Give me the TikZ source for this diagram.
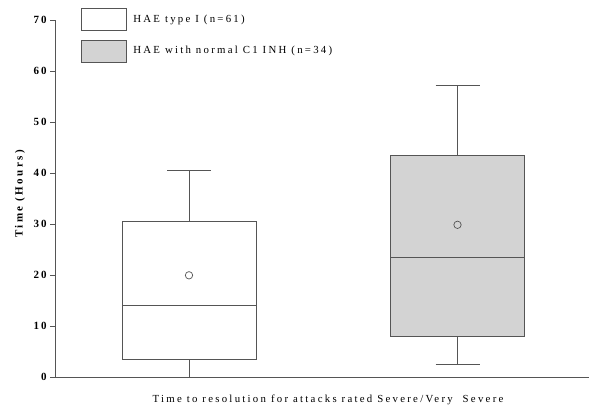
\documentclass[tikz,border=0pt]{standalone}
\usepackage{fontspec}
\setmainfont{Liberation Serif}
\usetikzlibrary{positioning}
\definecolor{lineclr}{RGB}{85,85,85}
\definecolor{boxfill}{RGB}{211,211,211}
\tikzset{
  plotline/.style={draw=lineclr, line width=0.9pt},
  legbox/.style={plotline, minimum width=44.7pt, minimum height=22.4pt, inner sep=0pt},
  legtext/.style={font=\fontsize{10.8}{12}\selectfont\addfontfeature{LetterSpace=21}, inner sep=0pt, anchor=west},
  ticklabel/.style={font=\bfseries\fontsize{11}{13}\selectfont\addfontfeature{LetterSpace=18}, inner sep=0pt, anchor=east},
  meanmark/.style={draw=lineclr, line width=0.7pt, fill=white}
}
\begin{document}
\begin{tikzpicture}[x=1pt, y=1pt]
            \useasboundingbox (0,0) rectangle (589,406);
            % Legend
            \node[legbox, fill=white] (legA) at (103.6,386.5) {};
            \node[legbox, fill=boxfill] (legB) at (103.6,354.8) {};
            \node[legtext, right=6.7pt of legA] (legAtext) {HAE type I (n=61)};
            \node[legtext, right=6.7pt of legB] (legBtext) {HAE with normal C1 INH (n=34)};
            % Axis titles
            \node[font=\bfseries\fontsize{11}{13}\selectfont\addfontfeature{LetterSpace=22}, rotate=90] (ylabel) at (20,212) {Time (Hours)};
            \node[font=\fontsize{10.8}{12}\selectfont\addfontfeature{LetterSpace=21}] (xlabel) at (328,6.5) {Time to resolution for attacks rated Severe/Very\ \ Severe};
            \begin{scope}[shift={(55,28.7)}, y=5.1pt]
            % Axes
            \draw[plotline] (0,70) -- (0,0) -- (534,0);
            \foreach \v in {0,10,...,70}
                \draw[plotline] (-5,\v) -- (0,\v) node[ticklabel] at (-8,\v) {\v};
            % Box 1: HAE type I
            \draw[plotline] (134,0) -- (134,3.5);
            \draw[plotline] (134,30.6) -- (134,40.5);
            \draw[plotline] (112,40.5) -- (156,40.5);
            \draw[plotline, fill=white] (67,3.5) rectangle (201,30.6);
            \draw[plotline] (67,14) -- (201,14);
            \draw[meanmark] (134,20) circle (3.7pt);
            % Box 2: normal C1 INH
            \draw[plotline] (402.5,2.5) -- (402.5,8);
            \draw[plotline] (402.5,43.5) -- (402.5,57.3);
            \draw[plotline] (380.5,2.5) -- (424.5,2.5);
            \draw[plotline] (380.5,57.3) -- (424.5,57.3);
            \draw[plotline, fill=boxfill] (335.7,8) rectangle (469.3,43.5);
            \draw[plotline] (335.7,23.5) -- (469.3,23.5);
            \draw[meanmark, fill=boxfill] (402.5,29.9) circle (3.7pt);
            \end{scope}
        \end{tikzpicture}
\end{document}
